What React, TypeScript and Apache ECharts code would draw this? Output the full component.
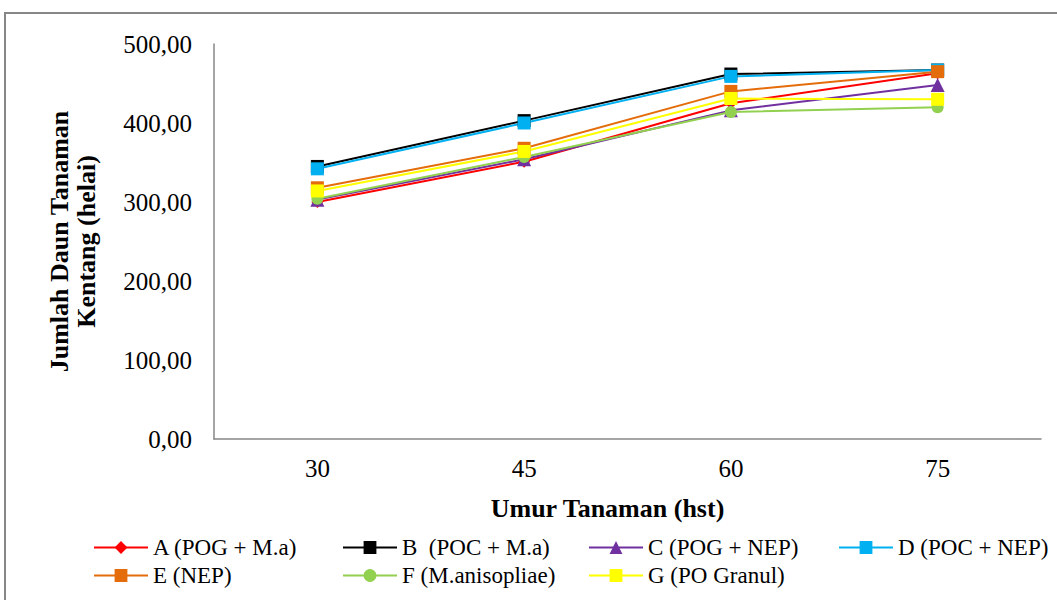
import React, { useEffect, useRef } from "react";
import * as echarts from "echarts";

const categories = ["30", "45", "60", "75"];
const seriesNames = [
  "A (POG + M.a)",
  "B  (POC + M.a)",
  "C (POG + NEP)",
  "D (POC + NEP)",
  "E (NEP)",
  "F (M.anisopliae)",
  "G (PO Granul)",
];
const valuesA = [300, 351, 425, 463];
const valuesB = [345, 403, 462, 467];
const valuesC = [303, 354, 416, 448];
const valuesD = [342, 400, 459, 467];
const valuesE = [318, 368, 440, 465];
const valuesF = [304, 357, 414, 420];
const valuesG = [314, 364, 431, 430];
const yTicks = { min: 0, max: 500, interval: 100 };
const xTitle = "Umur Tanaman (hst)";
const yTitle = "Jumlah Daun Tanaman\nKentang (helai)";

const allValues = [valuesA, valuesB, valuesC, valuesD, valuesE, valuesF, valuesG];
const colors = ["#FF0000", "#000000", "#7030A0", "#00B0F0", "#E46C0A", "#92D050", "#FFFF00"];
const symbols = ["diamond", "rect", "triangle", "rect", "rect", "circle", "rect"];
const symbolSizes = [12, 13, 14, 13, 13, 12, 13];
const legendPos = [
  [88, 531],
  [337, 531],
  [583, 531],
  [833, 531],
  [88, 559],
  [337, 559],
  [583, 559],
];

const FONT = "'Liberation Serif', 'Times New Roman', serif";

export default function App() {
  const ref = useRef<HTMLDivElement>(null);
  useEffect(() => {
    if (!ref.current) return;
    const chart = echarts.init(ref.current, null, { renderer: "svg" });
    chart.setOption({
      animation: false,
      backgroundColor: "#ffffff",
      textStyle: { fontFamily: FONT },
      graphic: [
        {
          type: "rect",
          shape: { x: 5, y: 13, width: 1070, height: 620 },
          style: { fill: "none", stroke: "#878787", lineWidth: 2 },
          silent: true,
        },
      ],
      grid: { left: 214, top: 44, right: 16, bottom: 161 },
      legend: seriesNames.map((n, i) => ({
        data: [n],
        left: legendPos[i][0],
        top: legendPos[i][1],
        itemWidth: 54,
        itemHeight: 16,
        itemGap: 4,
        textStyle: { fontFamily: FONT, fontSize: 23, color: "#000" },
      })),
      xAxis: {
        type: "category",
        data: categories,
        boundaryGap: true,
        axisLine: { lineStyle: { color: "#878787", width: 1.5 } },
        axisTick: { show: false },
        axisLabel: { fontFamily: FONT, fontSize: 25, color: "#000", margin: 17 },
        name: xTitle,
        nameLocation: "middle",
        nameGap: 56,
        nameTextStyle: {
          fontFamily: FONT,
          fontSize: 26,
          fontWeight: "bold",
          color: "#000",
          padding: [0, 40, 0, 0],
        },
      },
      yAxis: {
        type: "value",
        min: yTicks.min,
        max: yTicks.max,
        interval: yTicks.interval,
        splitLine: { show: false },
        axisLine: { show: true, lineStyle: { color: "#878787", width: 1.5 } },
        axisTick: { show: false },
        axisLabel: {
          fontFamily: FONT,
          fontSize: 25,
          color: "#000",
          margin: 22,
          formatter: (v: number) => v.toFixed(2).replace(".", ","),
        },
        name: yTitle,
        nameLocation: "middle",
        nameGap: 114,
        nameTextStyle: {
          fontFamily: FONT,
          fontSize: 26,
          fontWeight: "bold",
          color: "#000",
          lineHeight: 27,
        },
      },
      series: seriesNames.map((n, i) => ({
        name: n,
        type: "line",
        data: allValues[i],
        symbol: symbols[i],
        symbolSize: symbolSizes[i],
        lineStyle: { color: colors[i], width: 2 },
        itemStyle: { color: colors[i] },
      })),
    });
    return () => chart.dispose();
  }, []);
  return (
    <div
      ref={ref}
      style={{ position: "absolute", left: 0, top: 0, width: 1057, height: 600 }}
    />
  );
}
